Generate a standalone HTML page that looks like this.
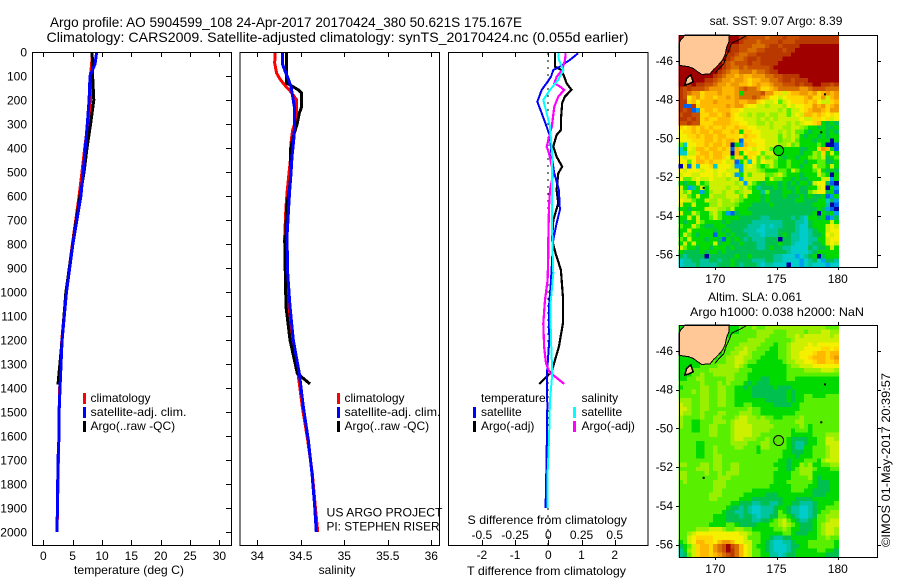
<!DOCTYPE html>
<html lang="en">
<head>
<meta charset="utf-8">
<title>Argo profile 5904599_108</title>
<style>
html,body{margin:0;padding:0;background:#fff;width:900px;height:580px;overflow:hidden}
svg{display:block;font-family:"Liberation Sans",sans-serif;font-size:12px;fill:#000}
.frame{fill:none;stroke:#000;stroke-width:1.4;shape-rendering:crispEdges}
text{stroke:none}
</style>
</head>
<body>
<svg id="chart" xmlns="http://www.w3.org/2000/svg" width="900" height="580" viewBox="0 0 900 580">
  <text x="50" y="27" font-size="14" textLength="472" lengthAdjust="spacingAndGlyphs">Argo profile: AO 5904599_108 24-Apr-2017 20170424_380 50.621S 175.167E</text>
  <text x="46.5" y="42" font-size="14" textLength="582" lengthAdjust="spacingAndGlyphs">Climatology: CARS2009. Satellite-adjusted climatology: synTS_20170424.nc (0.055d earlier)</text>

  <g id="map1"></g>
  <g id="map2"></g>
  <g id="p1"></g>
  <g id="p2"></g>
  <g id="p3"></g>

  <rect class="frame" x="32.5" y="52.5" width="199" height="493"/>
  <rect class="frame" x="240" y="52.5" width="199.5" height="493"/>
  <rect class="frame" x="448.5" y="52.5" width="199.5" height="493"/>
  <rect class="frame" x="679.5" y="35.5" width="198" height="232"/>
  <rect class="frame" x="679.5" y="325.5" width="198" height="232"/>

  <text x="74" y="574" textLength="110" lengthAdjust="spacingAndGlyphs">temperature (deg C)</text>
  <text x="337" y="574" text-anchor="middle">salinity</text>
  <text x="467.5" y="524" textLength="159.5" lengthAdjust="spacingAndGlyphs">S difference from climatology</text>
  <text x="467" y="575" textLength="159" lengthAdjust="spacingAndGlyphs">T difference from climatology</text>

  <g>
    <rect x="83" y="393" width="3" height="11" fill="#f00"/>
    <text x="90.5" y="402">climatology</text>
    <rect x="83" y="407" width="3" height="11" fill="#00f"/>
    <text x="90.5" y="416" textLength="96" lengthAdjust="spacingAndGlyphs">satellite-adj. clim.</text>
    <rect x="83" y="421" width="3" height="11" fill="#000"/>
    <text x="90.5" y="430">Argo(..raw -QC)</text>
  </g>
  <g>
    <rect x="337" y="393" width="3" height="11" fill="#f00"/>
    <text x="344.5" y="402">climatology</text>
    <rect x="337" y="407" width="3" height="11" fill="#00f"/>
    <text x="344.5" y="416" textLength="96" lengthAdjust="spacingAndGlyphs">satellite-adj. clim.</text>
    <rect x="337" y="421" width="3" height="11" fill="#000"/>
    <text x="344.5" y="430">Argo(..raw -QC)</text>
  </g>
  <text x="326.5" y="516.5" textLength="116" lengthAdjust="spacingAndGlyphs">US ARGO PROJECT</text>
  <text x="326.5" y="530.5" textLength="113" lengthAdjust="spacingAndGlyphs">PI: STEPHEN RISER</text>
  <g>
    <text x="481" y="402">temperature</text>
    <text x="581.5" y="402">salinity</text>
    <rect x="473" y="407" width="3" height="11" fill="#00f"/>
    <text x="481" y="416">satellite</text>
    <rect x="473" y="421" width="3" height="11" fill="#000"/>
    <text x="481" y="430">Argo(-adj)</text>
    <rect x="573" y="407" width="3" height="11" fill="#0ff"/>
    <text x="581.5" y="416">satellite</text>
    <rect x="573" y="421" width="3" height="11" fill="#f0f"/>
    <text x="581.5" y="430">Argo(-adj)</text>
  </g>

  <text x="776" y="25" text-anchor="middle">sat. SST: 9.07 Argo: 8.39</text>
  <text x="708" y="301" textLength="94" lengthAdjust="spacingAndGlyphs">Altim. SLA: 0.061</text>
  <text x="690" y="316" textLength="174" lengthAdjust="spacingAndGlyphs">Argo h1000: 0.038 h2000: NaN</text>
  <text transform="translate(890,547) rotate(-90)" textLength="174" lengthAdjust="spacingAndGlyphs">©IMOS 01-May-2017 20:39:57</text>
</svg>
<script>
// ---- profile data ----
const depthTicks = [0,100,200,300,400,500,600,700,800,900,1000,1100,1200,1300,1400,1500,1600,1700,1800,1900,2000];
const tempTicks = [0,5,10,15,20,25,30];
const salTicks = [34,34.5,35,35.5,36];
const salTickLabels = ['34','34.5','35','35.5','36'];
const diffTTicks = [-2,-1,0,1,2];
const diffSTicks = [-0.5,-0.25,0,0.25,0.5];
const diffSTickLabels = ['-0.5','-0.25','0','0.25','0.5'];

const tempDepths = [0,50,100,200,300,400,500,600,800,1000,1200,1400,1500,1600,1700,1800,1900,2000];
const tempClim = [8.3,8.25,8.0,8.05,7.6,7.05,6.6,6.1,4.95,3.9,3.15,2.8,2.7,2.65,2.55,2.5,2.4,2.35];
const tempSat = [9.1,8.8,7.95,7.8,7.5,7.15,6.8,6.4,5.05,3.95,3.2,2.85,2.7,2.67,2.5,2.45,2.4,2.33];
const tempArgoDepths = [0,50,100,200,300,400,500,600,800,1000,1200,1385];
const tempArgo = [8.3,8.4,8.4,8.6,8.05,7.45,6.95,6.25,5.0,3.85,3.2,2.5];

const salClimDepths = [0,47,89,117,144,165,200,242,283,325,367,436,505,575,644,769,922,1061,1200,1339,1478,1617,1756,1894,2000];
const salClim = [34.203,34.2,34.223,34.269,34.33,34.384,34.453,34.453,34.445,34.407,34.391,34.384,34.364,34.345,34.33,34.315,34.326,34.361,34.395,34.468,34.517,34.579,34.632,34.667,34.694];
const salSatDepths = [0,47,68,89,117,144,186,228,297,367,436,505,575,644,769,922,1061,1200,1339,1478,1617,1756,1894,2000];
const salSat = [34.287,34.287,34.307,34.33,34.361,34.387,34.407,34.425,34.43,34.418,34.399,34.387,34.372,34.361,34.341,34.349,34.376,34.414,34.483,34.529,34.586,34.629,34.66,34.678];
const salArgoDepths = [0,130,137,158,172,228,255,297,353,408,505,575,644,769,783,922,1061,1200,1339,1383];
const salArgo = [34.338,34.338,34.376,34.471,34.51,34.51,34.483,34.46,34.414,34.379,34.387,34.368,34.338,34.326,34.315,34.322,34.33,34.376,34.46,34.606];

const diffTSatDepths = [5,33,61,75,103,130,158,207,255,311,353,436,505,575,658,714,783,850,950,1061,1200,1339,1478,1686,1894,1900];
const diffTSat = [0.9,0.65,0.35,0.15,0.08,-0.05,-0.2,-0.33,-0.2,-0.05,0.05,0.1,0.18,0.32,0.35,0.25,0.15,0.12,0.08,0.02,0.03,-0.04,-0.03,-0.05,-0.08,-0.08];
const diffTArgoDepths = [5,61,72,80,103,130,158,186,212,283,325,346,394,436,478,505,575,630,700,783,839,908,1019,1131,1228,1332,1346,1383];
const diffTArgo = [0.2,0.2,0.35,0.41,0.48,0.55,0.7,0.5,0.42,0.38,0.38,0.25,0.15,0.25,0.42,0.3,0.25,0.3,0.15,0.11,0.22,0.38,0.44,0.44,0.32,0.1,0,-0.27];
const diffSArgoDepths = [5,33,75,103,130,144,158,186,228,311,367,394,422,505,575,644,783,839,950,1033,1131,1228,1297,1339,1350,1383];
const diffSArgo = [0.131,0.126,0.105,0.063,0.045,0.088,0.12,0.075,0.045,0.026,0,-0.012,0.005,0.038,0.013,0.005,0,0,-0.005,-0.025,-0.038,-0.032,-0.017,0.013,0.045,0.12];
const diffSSatDepths = [5,33,75,116,158,200,255,311,436,575,783,922,1061,1200,1339,1450,1617,1756,1900];
const diffSSat = [0.075,0.08,0.113,0.075,0.013,-0.038,-0.012,0.013,0.03,0.026,0.03,0.038,0.015,0.02,0.03,0.013,0.005,-0.005,-0.005];

// ---- map data: binned value per cell, a = coldest/lowest ... r = warmest/highest ----
const sstRows = [
"rrrrrrrrrr rrrrqqpppp opppqpppqq qqqqqqq",
"rrrrrrrrrr rrrrqpppop pppqpppqqq qqqqqqq",
"rrrrrrrrrr rrqqpppooo pqqpqqqqrr rrrrrrr",
"rrrrrrrrrr rrqqppoopp qqqqpqqrrr rrrrrrr",
"rrrrrrrrrr rqqpooppqq qqqqqqrrrr rrrrrrr",
"rrrrrrrrrr rqpoopqqpq qqqqrrrrrr rrrrrrr",
"rrrrrrrrrr qpopppqppq qqqrrrrrrr rrrrrrr",
"rrrrrrrrrr qpoopopppp pqrrrrrrrr rrrrrrr",
"rrrrrrrrrq ponnooonoo pqqrrrrrrr rrrrrrr",
"rrrrrrrrqp onnmnmmnnn ooppqqqqrr rrrrrrr",
"rrrrrrqqpo nnmnnmlmmn noopqqpqqq rrrrrrr",
"rrqrqqppon nmnnmmlmnm mnoopppqpq qrrqqpq",
"qpqppponnn mmmnopoonl lmnooooonn opppooo",
"qponnlmmmn mmmngoooop nnlljlmmnn mnlmnmn",
"qpkmnlmmlm mnmnooopon mkkjkllllm nllnjmn",
"qqlmkmmmnm mmmnmmnnlk jjkhjklllm lmkjjlm",
"qbbqlmmmmm mnmnnlkkjj ijjjikjkkl lnmnlmn",
"qpqbclmmlm mmllkjjjjj jjjijhjjkl mnnmlnn",
"pqqppllmml mnlkjjijii jiijjhjkjm mlmlklk",
"qqpqplmllm mmlkkjjjij ijijjjjjkj jllkljk",
"ppqpplllmm mmllkkjjii jijjjijijk klmgfgf",
"lklmlmlmll mllmllkkjj jijjiijjih ggfgffg",
"kllmlmmlmm llmlgllkkj jjjijijhhg fgggfgf",
"kkllmlmmlm mlllkmllkj jjjhjijigf ggfgfgg",
"kkklllmmlm lmmlbllkkk jjjhiijhgg gfgggag",
"hdkkllmlmm lmagcmllkk jjjiijhigg gghgaab",
"dgkjmmlmml mlbmllkjkk jhiiggggff gglnmgb",
"ddjjlmmlmm llamgkllkh jjigggggfg gihlgjg",
"kjkkmlmlmm lkgllglkhj hiigfggfgg hihjfgh",
"kkhkmmlmll kjlbgjdkhk jjhgghgggf gghhffg",
"akbkdkkldk kkjccjkjhg hjhgghggfg gjhhgjg",
"kjkkkjkkjk kjjjcjjjih ggghhgjhgg ghjgfgf",
"jkkjjkkkjk jkjcgjhjjj hhijhgggfg ggjhgag",
"khhjkjjkjj jijjcjjjjj gjhhggfgff gggjjcg",
"gfggjghjjj jjjijcjhgf gggfgfgfgg fjkkfba",
"jgcegjgjjj jijjijhgef ffgfgffgff ggjkagc",
"jhjggcgijj ijjhijjgge hfffggfgff hjkkfgb",
"jjhgjggjii ijjjhjgggf gfffgfffgf gffgbcg",
"kjjhggjiij iijihggggf gffffffggf ffggdfc",
"jggjgggiij iiihgggfff fgffffffff fgggeab",
"ggfgggjjji ihjgggffff ffffffffff ffgfcba",
"jggjhggijh gcbfgggfff ffffffffff fgagfgc",
"ggjgjgghjh ggggfffffe efffffefed ggfgbcf",
"gfggjhgggg fgfffffeee eeeefffeed fggggjg",
"hggjhgffgg gfffffeeed edeefffedd fgggjkj",
"ggjgggggfg fgfffeeedd eeeffffedd efggjkk",
"gjhgfgggbg gfgfffeeed eeefgfeedd effgkjk",
"hgjgggfggf bgfgfefeee fffaffeedd eeggjkk",
"gjgjggggjf ggffgfffee fffgffeddd effgjkj",
"jhggfggfgg gfgfffffee fgffeedddd feffgjg",
"gffffgfggf gfffffffff fffffedddd efggggg",
"feffffafff fffgffgfff ffeedddcde fgafggg",
"deeffeeffe ffgffffeee ffeeddddcd efdcffe",
"deeefeeeef ffgfefffed eedddaddcd edddcdd"
];
const slaRows = [
"gggggggggg gggghhhihh iiiiiiiiii iiiihhh",
"gggggggggg gggghhhhii iihhhiiiih iiijjii",
"gggggggggg gghhhhhhii ihhhhiijij jjjjjij",
"gggggggggg ghhhhhiiii hhhhhhijjj jjjjjjj",
"gggggggggg ghhhiiiiih hhghhijjjj kjkkkkk",
"gggggggggg hhhiijiihh hgghhijjjk kkkllkl",
"gggggggggg hhiijjihhh ggghhijjkk klmmlmm",
"gggggggggh hiijjiihhg ggghhijjkk lmmmlmn",
"ggggggghhh hiijjihhgg gggghiijjk klmmllm",
"ggggghhhhi iiijihgggg ggggghiijj jkkkkkk",
"gghhhhhiii iiiihhhggg ggggghhhhi iiijjji",
"ggghhihhii iiihhhgggg ggggghhhhh hhhhhhh",
"gghhiihhhh hiihhhgggf fgggghhggg ggggggg",
"hhhhhihhhi hihhhgfgff fggggggggg ggggggg",
"ghhhhiihhi ihhggfgfff ffgfffgggg ggggggg",
"hhhihiihhi ihhggggfff fffffgfggg ggggggg",
"hhhhhiihhi ihhggggfff fffffgfggh hggghhh",
"iiihhiihhi ihhggggggg fffffgfggh hhhhhhh",
"jiihhiihhi ihhgghhggg ggffffgghh hhhhhhh",
"jjihhiihhh hhhhhhihhg gggggggghh hhhhhhh",
"jiihhihhhi ihhhiiihhg ggggggghhh hhhhhhh",
"ihhhhihhii hhhijjiihi hhgghhhhih hhhhhhh",
"ihhgghhhii ihijjjiiii ihhhhhhiih hhhhhhh",
"ihhgghhiih hhijjjjiii iihhhhhhih ghhhhhh",
"hhhgghhiih hhijjjjiii ihhhhhghhh ghhhhhh",
"hhhhhhhiih hhijjjjiih hhhhhhgggg ghhhiii",
"hhhhhhhhhh hhijjiiihh ihhhhgffff gghhjji",
"hhhhgghhhh hhiiiihhhi ihhhhgfeef gghhjjj",
"hhhhgghhih hhhiihhhgi ihhhhgfeeg ghhhijj",
"hhhhgghhih hhhhhhhhgh hhhhggfffg ghhhijj",
"hhhhgghhii hhhhhhhhhh hhhhgggfgg ghhhijj",
"hhhhhhhhii hhhhhhhhhh hhhggfgggh hhgijjj",
"iihhhiihii hhiihhhhhh hhgggfggih igghhii",
"hhhhiiihii hhiihhhhhh hhhggfghii ihggghh",
"iihhhhihhi hiiihhhhhh hhgggghhii igggggg",
"iihhhhhhhi iihhhhhhhh hhgggghhhh igfgggg",
"hihhhhhhii ihhhhhhhhh hhggghhhhh hgfffgg",
"hhhhhhhhii ihhhhhhhhh hggggghhhh ggfffgg",
"hhhhhhhhii hhhhhhhggg gggggghhhg gffffgg",
"hhhhhhhiii hhhhhggggg fffggggggg gfffggg",
"hhhhhhhiih hhhhgggfff ffffgggfff fgggggg",
"hhhhhhhhhh hhggfffeef feefggffee efggggh",
"hhhhhhhhhh hgffefedde eefggfeedd efgghhh",
"hhhhhhhhhh gffeefedde eefhgfeedd efghhii",
"hhhhhhhhgg gfffeffede effhhgfedd efhhiii",
"hhhhhhhhgg gffffffeef fghijhgfee fghhijj",
"hhhhhhhggg ghhgffffgg ghhijihgff fghijjj",
"hhhhiiijjj ihhiihhggg gghhihggff fghijji",
"hhijkkkkkk kkkkjjihhg gggghhgfff gghijji",
"hhjkllllkk kkkkkjhhhg gfeeffgggg gghhihh",
"ghjkmmllkm nnmkkjjhhg feddeefggg hhhhhhg",
"fghjlmmlno prpomkjhgg fedddeffgg hhhhhhg",
"egijlmmlno prqomkjhhg fedddefggg gghhggf",
"efhjlmmlmn opqomkjhhg geedeffggg ggggfff"
];
const mapLonTicks = [170,175,180];
const mapLatTicks = [46,48,50,52,54,56];
const mapLatLabels = ['-46','-48','-50','-52','-54','-56'];
const landLon = [167.03,167.17,167.52,171.14,171.12,170.93,170.79,170.6,170.24,169.84,169.56,168.88,168.48,168.2,167.8,167.39,167.03];
const landLat = [-45.09,-44.92,-44.67,-44.67,-45.0,-45.29,-45.69,-45.95,-46.21,-46.46,-46.67,-46.69,-46.52,-46.38,-46.29,-46.26,-46.21];
const islandLon = [167.52,167.66,167.99,168.2,167.8];
const islandLat = [-47.24,-46.9,-46.72,-47.07,-47.19];
const coastLon = [172.5,172.01,171.6,171.33,171.14,170.87,170.71,170.38,169.97];
const coastLat = [-44.71,-44.88,-45.0,-45.09,-45.4,-45.78,-46.12,-46.33,-46.64];
const speckLon = [169.05,178.95,178.65];
const speckLat = [-52.55,-47.72,-49.68];
const floatLon = 175.167;
const floatLat = -50.621;

const colorScale = {a:'#0000a0',b:'#0060f0',c:'#00a0f0',d:'#00cccc',e:'#00c49c',f:'#00c050',g:'#00da00',h:'#58f000',i:'#98f000',j:'#ccf000',k:'#f4f000',l:'#ffd800',m:'#ffb800',n:'#f09800',o:'#d87000',p:'#c85000',q:'#b83800',r:'#a00000'};

// ---- helpers ----
const NS = 'http://www.w3.org/2000/svg';
const depthY = d => 52 + 0.24 * d;
const tempX = t => 43.3 + 5.87 * t;
const salX = s => 257.3 + 87 * (s - 34);
const diffTX = t => 548.3 + 33.2 * t;
const diffSX = s => 548.3 + 132.8 * s;
const lonX = lon => 715.3 + 12.25 * (lon - 170);
const latY = (lat, top) => top + 25.8 + 19.37 * (-lat - 46);

function mk(parent, tag, attrs) {
  const el = document.createElementNS(NS, tag);
  for (const k in attrs) el.setAttribute(k, attrs[k]);
  parent.appendChild(el);
  return el;
}
function series(parent, depths, values, xfn, color, width, name) {
  const el = mk(parent, 'polyline', {
    points: depths.map((d, i) => xfn(values[i]).toFixed(1) + ',' + depthY(d).toFixed(1)).join(' '),
    fill: 'none', stroke: color, 'stroke-width': width, 'shape-rendering': 'crispEdges', 'stroke-linejoin': 'miter'
  });
  
  
}
function tick(parent, x1, y1, x2, y2) {
  const el = mk(parent, 'line', {x1, y1, x2, y2, stroke: '#000', 'stroke-width': 1, 'shape-rendering': 'crispEdges'});
  
  
}
function label(parent, x, y, str, anchor) {
  const el = mk(parent, 'text', {x, y, 'text-anchor': anchor});
  el.textContent = str;
  
  
}
function xAxis(parent, ticks, xfn) {
  ticks.forEach(t => {
    const x = Math.round(xfn(t)) + 0.5;
    tick(parent, x, 52, x, 57);
    tick(parent, x, 545, x, 540);
  });
}

// ---- temperature panel ----
const p1 = document.getElementById('p1');
series(p1, tempDepths, tempClim, tempX, '#f00', 3, 'temperature-climatology-line');
series(p1, tempArgoDepths, tempArgo, tempX, '#000', 3, 'temperature-argo-line');
series(p1, tempDepths, tempSat, tempX, '#00f', 3, 'temperature-satellite-line');
xAxis(p1, tempTicks, tempX);
tempTicks.forEach(t => label(p1, tempX(t), 560, String(t), 'middle'));
depthTicks.forEach(d => {
  const y = Math.round(depthY(d)) + 0.5;
  tick(p1, 231, y, 226, y);
  label(p1, 27, depthY(d) + 4.5, String(d), 'end');
});

// ---- salinity panel ----
const p2 = document.getElementById('p2');
series(p2, salClimDepths, salClim, salX, '#f00', 3, 'salinity-climatology-line');
series(p2, salArgoDepths, salArgo, salX, '#000', 3, 'salinity-argo-line');
series(p2, salSatDepths, salSat, salX, '#00f', 3, 'salinity-satellite-line');
xAxis(p2, salTicks, salX);
salTicks.forEach((s, i) => label(p2, salX(s), 560, salTickLabels[i], 'middle'));

// ---- difference panel ----
const p3 = document.getElementById('p3');
const zero = mk(p3, 'line', {x1: 548, y1: 53, x2: 548, y2: 545, stroke: '#000', 'stroke-width': 1, 'stroke-dasharray': '2 5', 'shape-rendering': 'crispEdges'});


series(p3, diffTArgoDepths, diffTArgo, diffTX, '#000', 2.2, 't-difference-argo-line');
series(p3, diffTSatDepths, diffTSat, diffTX, '#00f', 2, 't-difference-satellite-line');
series(p3, diffSArgoDepths, diffSArgo, diffSX, '#f0f', 2.2, 's-difference-argo-line');
series(p3, diffSSatDepths, diffSSat, diffSX, '#0ff', 2, 's-difference-satellite-line');
xAxis(p3, diffTTicks, diffTX);
diffTTicks.forEach(t => label(p3, diffTX(t), 559, String(t), 'middle'));
diffSTicks.forEach((s, i) => label(p3, diffSX(s), 539, diffSTickLabels[i], 'middle'));

// ---- maps ----
const cellLon = 0.3528, cellLat = 0.2216, gridLon = 167.0, gridLat = -44.67;
function drawMap(group, rows, top, fillColor) {
  rows.forEach((raw, r) => {
    const row = raw.replace(/ /g, '');
    for (let c = 0; c < 37; c++) {
      const ch = row[c] || row[row.length - 1];
      const x0 = lonX(gridLon + c * cellLon);
      const y0 = latY(gridLat - r * cellLat, top);
      const cell = mk(group, 'rect', {
        x: x0.toFixed(1), y: y0.toFixed(1),
        width: (12.25 * cellLon + 0.4).toFixed(2), height: (19.37 * cellLat + 0.4).toFixed(2),
        fill: colorScale[ch], 'shape-rendering': 'crispEdges'
      });
      
      
    }
  });
  const pts = (lons, lats) => lons.map((l, i) => lonX(l).toFixed(1) + ',' + latY(lats[i], top).toFixed(1)).join(' ');
  const land = mk(group, 'polygon', {points: pts(landLon, landLat), fill: '#ffc896', stroke: '#000', 'stroke-width': 1, 'shape-rendering': 'crispEdges'});
  
  
  const isl = mk(group, 'polygon', {points: pts(islandLon, islandLat), fill: '#ffc896', stroke: '#000', 'stroke-width': 1.5, 'shape-rendering': 'crispEdges'});
  
  
  const coast = mk(group, 'polyline', {points: pts(coastLon, coastLat), fill: 'none', stroke: '#000', 'stroke-width': 1, 'shape-rendering': 'crispEdges'});
  
  
  speckLon.forEach((l, i) => {
    const s = mk(group, 'rect', {x: lonX(l) - 1, y: latY(speckLat[i], top) - 1, width: 2, height: 2, fill: '#000'});
    
    
  });
  const pos = mk(group, 'circle', {cx: lonX(floatLon), cy: latY(floatLat, top), r: 5, fill: fillColor, stroke: '#000', 'stroke-width': 1});
  
  
  const bottom = top + 232;
  mapLonTicks.forEach(l => {
    const x = Math.round(lonX(l)) + 0.5;
    tick(group, x, top, x, top - 3);
    tick(group, x, bottom, x, bottom + 3);
    label(group, lonX(l), bottom + 16, String(l), 'middle');
  });
  mapLatTicks.forEach((l, i) => {
    const y = Math.round(latY(-l, top)) + 0.5;
    tick(group, 679, y, 676, y);
    tick(group, 878, y, 881, y);
    label(group, 673, latY(-l, top) + 4, mapLatLabels[i], 'end');
  });
}
drawMap(document.getElementById('map1'), sstRows, 35.2, '#00da00');
drawMap(document.getElementById('map2'), slaRows, 325.2, '#58e800');
</script>
</body>
</html>
